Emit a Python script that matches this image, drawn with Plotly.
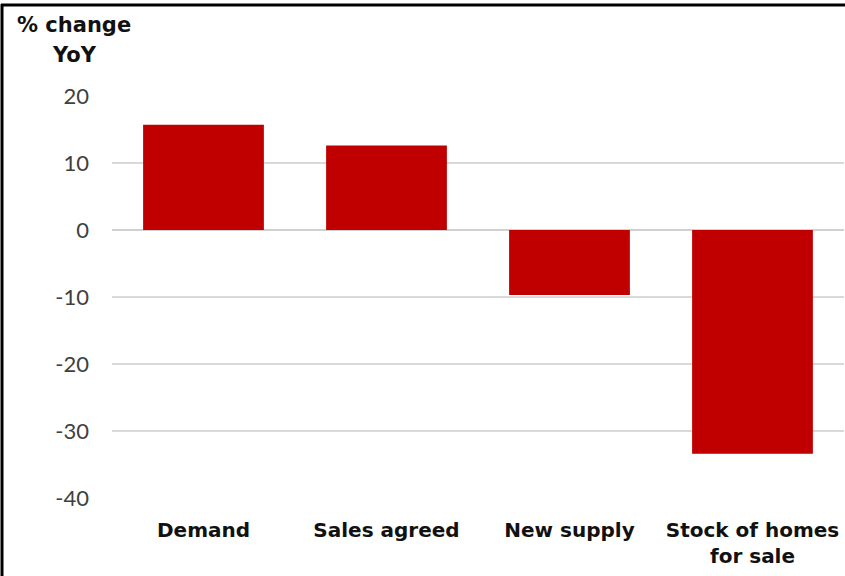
import plotly.graph_objects as go

categories = ["Demand", "Sales agreed", "New supply", "Stock of homes<br>for sale"]
values = [15.7, 12.6, -9.7, -33.4]
tick_vals = [20, 10, 0, -10, -20, -30, -40]
tick_text = ["20", "10", "0", "-10", "-20", "-30", "-40"]

W, H = 845, 576
L, R, T, B = 112, 1, 96, 78
pw, ph = W - L - R, H - T - B

def px_x(p):
    return (p - L) / pw

def px_y(p):
    return 1 - (p - T) / ph

fig = go.Figure(go.Bar(
    x=categories, y=values, marker=dict(color="#c00000", line=dict(width=0)),
    width=0.66,
))

fig.update_layout(
    width=W, height=H,
    margin=dict(l=L, r=R, t=T, b=B),
    paper_bgcolor="white", plot_bgcolor="white",
    showlegend=False,
    font=dict(family="DejaVu Sans, sans-serif"),
    xaxis=dict(
        showgrid=False, showline=False, ticks="", ticklabelstandoff=18,
        tickfont=dict(size=20, color="#111111", family="DejaVu Sans", weight="bold"),
    ),
    yaxis=dict(
        range=[-40, 20], tickvals=tick_vals, ticktext=tick_text, showgrid=True,
        gridcolor="#d9d9d9", gridwidth=1.5,
        zeroline=True, zerolinecolor="#d0d0d0", zerolinewidth=2,
        showline=False, ticks="", ticklabelstandoff=22,
        tickfont=dict(size=22, color="#404040", family="Lato"),
    ),
    shapes=[
        dict(type="line", xref="paper", yref="paper",
             x0=px_x(2), x1=px_x(2), y0=px_y(4), y1=px_y(576), line=dict(color="black", width=3)),
        dict(type="line", xref="paper", yref="paper",
             x0=px_x(1), x1=px_x(845), y0=px_y(5), y1=px_y(5), line=dict(color="black", width=3)),
    ],
    annotations=[
        dict(text="<b>% change</b>", xref="paper", yref="paper",
             x=px_x(74), y=px_y(25), xanchor="center", yanchor="middle", showarrow=False,
             font=dict(size=21, color="#111111", family="DejaVu Sans")),
        dict(text="<b>YoY</b>", xref="paper", yref="paper",
             x=px_x(74), y=px_y(55), xanchor="center", yanchor="middle", showarrow=False,
             font=dict(size=21, color="#111111", family="DejaVu Sans")),
    ],
)

fig.write_html("out.html")
